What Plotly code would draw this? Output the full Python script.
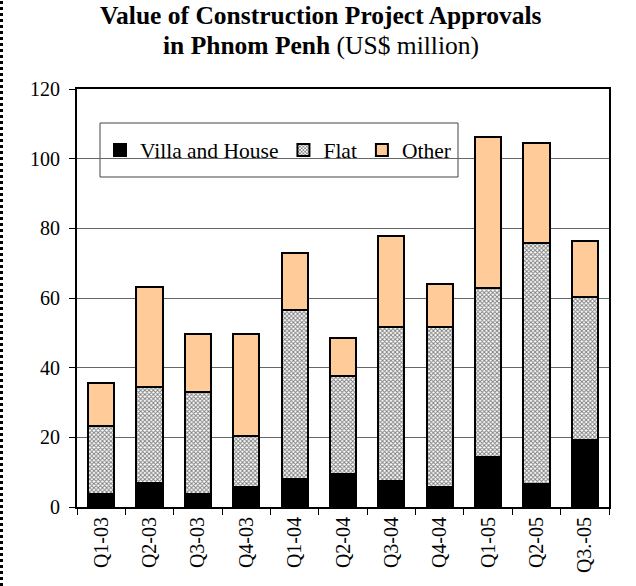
import plotly.graph_objects as go

quarters = ["Q1-03", "Q2-03", "Q3-03", "Q4-03", "Q1-04", "Q2-04", "Q3-04", "Q4-04", "Q1-05", "Q2-05", "Q3.-05"]
villa = [3.8, 7.0, 3.6, 5.8, 8.1, 9.4, 7.4, 5.8, 14.4, 6.7, 19.2]
flat = [19.4, 27.5, 29.3, 14.5, 48.5, 28.3, 44.2, 45.8, 48.4, 69.0, 41.2]
other = [12.5, 28.8, 16.8, 29.4, 16.3, 10.7, 26.3, 12.4, 43.3, 28.8, 16.0]
y_ticks = [0, 20, 40, 60, 80, 100, 120]
title_line1 = "<b>Value of Construction Project Approvals</b>"
title_line2 = "<b>in Phnom Penh</b> (US$ million)"

FONT = "Liberation Serif"

fig = go.Figure()
fig.add_trace(go.Bar(x=quarters, y=villa, name="Villa and House",
                     marker=dict(color="black", line=dict(color="black", width=2))))
fig.add_trace(go.Bar(x=quarters, y=flat, name="Flat",
                     marker=dict(color="white", line=dict(color="black", width=2),
                                 pattern=dict(shape="x", size=3, solidity=0.55,
                                              fgcolor="black", bgcolor="white",
                                              fillmode="overlay"))))
fig.add_trace(go.Bar(x=quarters, y=other, name="Other",
                     marker=dict(color="#FFCC99", line=dict(color="black", width=2))))

W, H = 636, 586
ml, mr, mt, mb = 77, 27, 89, 79
pw, ph = W - ml - mr, H - mt - mb

def px_x(p):
    return (p - ml) / pw

def px_y(p):
    return (H - mb - p) / ph

fig.update_layout(
    width=W, height=H,
    margin=dict(l=ml, r=mr, t=mt, b=mb),
    barmode="stack",
    bargap=0.46,
    plot_bgcolor="white",
    paper_bgcolor="white",
    font=dict(family=FONT, size=20, color="black"),
    legend=dict(
        orientation="h",
        x=px_x(100), y=px_y(150), xanchor="left", yanchor="middle",
        bgcolor="rgba(0,0,0,0)", borderwidth=0,
        font=dict(family=FONT, size=21.5, color="black"),
        itemwidth=30,
        traceorder="normal",
    ),
    showlegend=True,
    xaxis=dict(
        type="category",
        tickangle=-90,
        tickson="boundaries",
        ticks="outside", ticklen=6, tickcolor="black", tickwidth=1,
        showline=True, linecolor="black", linewidth=2, mirror=True,
        showgrid=False,
        tickfont=dict(family=FONT, size=20, color="black"),
    ),
    yaxis=dict(
        range=[0, 120],
        tickvals=y_ticks,
        ticks="outside", ticklen=6, tickcolor="black", tickwidth=1,
        ticklabelstandoff=5,
        showline=True, linecolor="black", linewidth=2, mirror=True,
        showgrid=True, gridcolor="#666666", gridwidth=1,
        zeroline=False,
        tickfont=dict(family=FONT, size=20, color="black"),
    ),
    annotations=[
        dict(text=title_line1,
             xref="paper", yref="paper", x=px_x(321), y=px_y(0),
             xanchor="center", yanchor="top", showarrow=False, borderpad=0,
             font=dict(family=FONT, size=25.5, color="black")),
        dict(text=title_line2,
             xref="paper", yref="paper", x=px_x(321), y=px_y(62),
             xanchor="center", yanchor="bottom", showarrow=False,
             font=dict(family=FONT, size=25.5, color="black")),
    ],
    shapes=[
        dict(type="rect", xref="paper", yref="paper",
             x0=px_x(100), x1=px_x(458), y0=px_y(177), y1=px_y(123),
             line=dict(color="#444444", width=1), fillcolor="white", layer="between"),
        dict(type="line", xref="paper", yref="paper",
             x0=px_x(1.5), x1=px_x(1.5), y0=px_y(586), y1=px_y(0),
             line=dict(color="black", width=3, dash="dot")),
    ],
)

fig.write_html("out.html", post_script="document.body.style.margin='0';",
               config={"displayModeBar": False})
